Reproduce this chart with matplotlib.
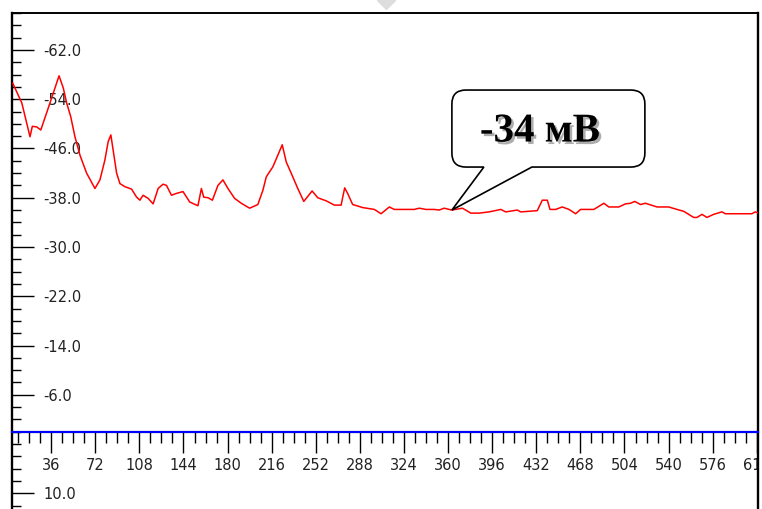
import matplotlib
matplotlib.use("Agg")
import matplotlib.pyplot as plt
import matplotlib.patheffects as pe
from matplotlib.path import Path
from matplotlib.patches import PathPatch
from matplotlib.lines import Line2D
from matplotlib.ticker import FixedLocator, MultipleLocator, FormatStrFormatter
from matplotlib.transforms import Affine2D

# zeta potential trace
x_vals = [4.6, 12.0, 18.7, 20.6, 24.2, 27.5, 32.3, 37.7, 42.4, 45.9,
          48.6, 51.9, 55.4, 59.5, 64.9, 71.7, 75.8, 79.8, 82.5, 84.7,
          86.6, 89.4, 92.1, 96.1, 101.6, 105.7, 108.4, 111.0, 115.1, 119.2,
          123.3, 127.3, 130.1, 134.2, 138.2, 143.6, 149.1, 155.8, 158.6, 160.5,
          164.0, 167.6, 172.1, 176.2, 180.3, 185.7, 191.2, 198.0, 204.7, 208.8,
          211.6, 216.9, 221.0, 224.6, 227.9, 233.2, 237.3, 242.2, 249.0, 253.6,
          260.4, 267.2, 272.7, 274.0, 275.6, 278.0, 282.1, 290.3, 299.8, 305.3,
          312.0, 316.1, 318.8, 332.4, 336.5, 341.9, 348.7, 352.7, 356.8, 363.1,
          371.7, 378.6, 385.3, 393.5, 403.0, 407.1, 416.5, 419.3, 432.8, 436.9,
          441.0, 443.2, 447.8, 453.2, 458.7, 464.1, 468.2, 479.0, 487.2, 491.2,
          499.4, 504.8, 508.9, 512.4, 517.1, 521.1, 530.6, 540.1, 546.9, 552.3,
          560.5, 563.2, 567.3, 571.3, 576.8, 583.5, 586.3, 608.0, 610.8, 614.8]
mv_vals = [-56.6, -53.4, -47.9, -49.6, -49.5, -49.0, -51.8, -55.0, -57.8, -55.8,
           -53.4, -51.2, -47.9, -44.9, -42.0, -39.5, -40.9, -44.1, -47.1, -48.2,
           -45.7, -42.0, -40.3, -39.8, -39.4, -38.1, -37.6, -38.4, -37.9, -37.0,
           -39.5, -40.2, -40.0, -38.4, -38.7, -39.0, -37.3, -36.7, -39.5, -38.1,
           -38.0, -37.6, -40.0, -40.9, -39.5, -37.9, -37.1, -36.3, -36.9, -39.2,
           -41.4, -43.0, -44.9, -46.6, -43.8, -41.4, -39.5, -37.4, -39.1, -38.0,
           -37.5, -36.8, -36.8, -38.1, -39.6, -38.7, -36.9, -36.4, -36.1, -35.4,
           -36.5, -36.1, -36.1, -36.1, -36.3, -36.1, -36.1, -36.0, -36.3, -36.0,
           -36.3, -35.5, -35.5, -35.7, -36.1, -35.7, -36.0, -35.7, -35.9, -37.6,
           -37.6, -36.1, -36.1, -36.5, -36.1, -35.4, -36.1, -36.1, -37.1, -36.5,
           -36.5, -37.0, -37.1, -37.4, -36.9, -37.1, -36.5, -36.5, -36.1, -35.8,
           -34.8, -34.8, -35.3, -34.8, -35.3, -35.7, -35.4, -35.4, -35.7, -35.4]

y_major = [-62, -54, -46, -38, -30, -22, -14, -6, 10]
x_step = 36
callout_text = "-34 мВ"
callout_at = (363.1, -36.0)

W, H = 762, 509
fig = plt.figure(figsize=(W / 100, H / 100), dpi=100)
fig.patch.set_facecolor("white")
ax = fig.add_axes([12 / W, 0, 746 / W, 496 / H])

ax.plot(x_vals, mv_vals, color="#ff0000", lw=1.1, zorder=3)

ax.set_xlim(4, 613)
ax.set_ylim(12.55, -68.0)

# frame: black left/top/right, blue zero line carries the x ticks
for side in ("left", "top", "right"):
    ax.spines[side].set_color("black")
ax.spines["left"].set_linewidth(1.7)
ax.spines["top"].set_linewidth(1.4)
ax.spines["right"].set_linewidth(1.7)
ax.spines["bottom"].set_position(("data", 0))
ax.spines["bottom"].set_color("#0000ff")
ax.spines["bottom"].set_linewidth(1.6)

ax.yaxis.set_major_locator(FixedLocator(y_major))
ax.yaxis.set_minor_locator(MultipleLocator(2))
ax.yaxis.set_major_formatter(FormatStrFormatter("%.1f"))
ax.xaxis.set_major_locator(MultipleLocator(x_step))
ax.xaxis.set_minor_locator(MultipleLocator(9))

ax.tick_params(axis="y", which="major", direction="in", length=15.8, width=1.0,
               color="black", pad=-22.3, labelsize=10.5, labelcolor="#222222")
ax.tick_params(axis="y", which="minor", direction="in", length=6.7, width=1.0,
               color="black")
ax.tick_params(axis="x", which="major", direction="out", length=15.1, width=1.0,
               color="black", pad=3.6, labelsize=10.5, labelcolor="#222222")
ax.tick_params(axis="x", which="minor", direction="out", length=7.9, width=1.0,
               color="black")

for lab in ax.yaxis.get_majorticklabels():
    lab.set_ha("left")
for lab in ax.xaxis.get_majorticklabels():
    lab.set_clip_on(True)
    lab.set_clip_box(ax.bbox)

# speech bubble callout, built in pixels around the pointed data value
tx, ty = ax.transData.transform(callout_at)
L, R, B, T, r = 0, 193, 43, 120, 14
verts = [(32, B), (0, 0), (80, B), (R - r, B), (R, B), (R, B + r), (R, T - r),
         (R, T), (R - r, T), (L + r, T), (L, T), (L, T - r), (L, B + r),
         (L, B), (L + r, B), (32, B)]
codes = [Path.MOVETO, Path.LINETO, Path.LINETO, Path.LINETO,
         Path.CURVE3, Path.CURVE3, Path.LINETO, Path.CURVE3, Path.CURVE3,
         Path.LINETO, Path.CURVE3, Path.CURVE3, Path.LINETO,
         Path.CURVE3, Path.CURVE3, Path.CLOSEPOLY]
bubble = PathPatch(Path(verts, codes), facecolor="white", edgecolor="black",
                   lw=1.2, transform=Affine2D().translate(tx, ty), zorder=5,
                   clip_on=False)
ax.add_patch(bubble)
ax.annotate(callout_text, xy=callout_at, xytext=(88, 78),
            textcoords="offset pixels", ha="center", va="center",
            fontsize=29.5, fontweight="bold", family="Liberation Serif",
            color="black", zorder=6,
            path_effects=[pe.withSimplePatchShadow(offset=(1.8, -1.8),
                                                   shadow_rgbFace="#999999",
                                                   alpha=0.8)])

# faint watermark mark at the top edge
fig.add_artist(Line2D([0.506], [1.0], marker="D", ms=9, color="#dddddd",
                      transform=fig.transFigure))

fig.savefig("out.png", dpi=100, facecolor="white")
